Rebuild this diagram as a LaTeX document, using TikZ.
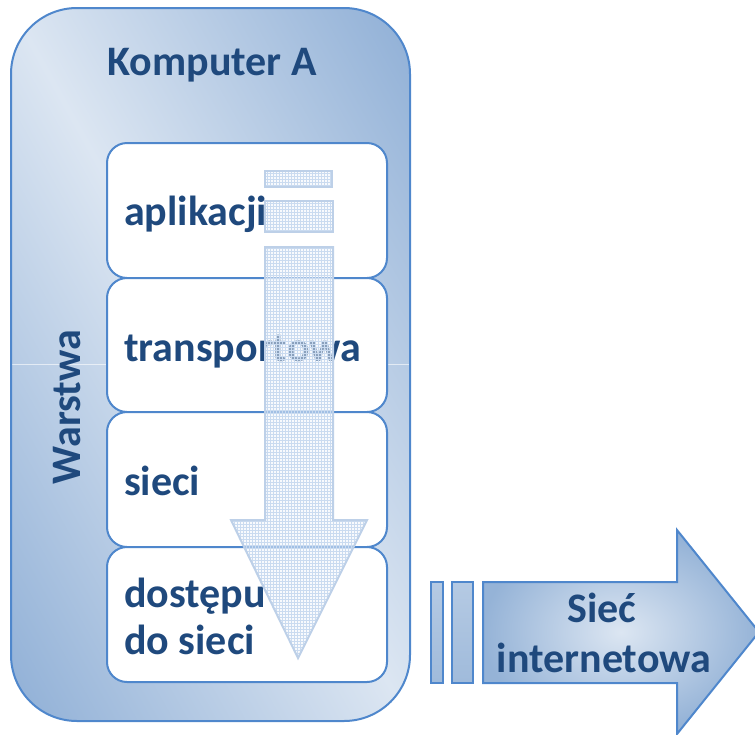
\documentclass[tikz,border=0pt]{standalone}
\usepackage{fontspec}
\setmainfont{Carlito}
\usetikzlibrary{patterns}

\definecolor{frameblue}{HTML}{4F87CC}
\definecolor{textblue}{HTML}{1F497D}
\definecolor{lightblue}{HTML}{DCE6F2}
\definecolor{midblue}{HTML}{95B3D7}
\definecolor{deepblue}{HTML}{8FAFD6}
\definecolor{ghostfill}{HTML}{F3F7FC}
\definecolor{ghostgrid}{HTML}{CADBF0}
\definecolor{ghostline}{HTML}{BDD0E8}

\tikzset{
  label/.style={font=\fontsize{42}{48}\selectfont\bfseries, text=textblue, inner sep=0pt},
  layerbox/.style={draw=frameblue, line width=2pt, fill=white, rounded corners=20pt},
  ghostfillstyle/.style={fill=ghostfill, fill opacity=0.5},
  ghostgridstyle/.style={pattern=grid, pattern color=ghostgrid, fill opacity=0.7},
  ghostedge/.style={draw=ghostline, line width=2pt},
  barstyle/.style={draw=frameblue, line width=2pt, top color=midblue!55!lightblue, bottom color=midblue!85!lightblue},
  enclosure/.style={rounded corners=66pt},
}

\begin{document}
\begin{tikzpicture}[x=1pt, y=-1pt]
\useasboundingbox (0,0) rectangle (755,734);

% computer enclosure: light along the main diagonal, darker towards the other two corners
\begin{scope}
  \clip[enclosure] (11,8) rectangle (410,721);
  \begin{scope}[transform canvas={rotate around={-60.8:(210.5,364.5)}}]
    \shade[top color=deepblue, bottom color=deepblue, middle color=lightblue]
      (-330,16.5) rectangle (751,712.5);
  \end{scope}
\end{scope}
\draw[white, opacity=0.6, line width=0.8pt] (12,364) -- (409,364);
\draw[enclosure, frameblue, line width=2pt] (11,8) rectangle (410,721);

\node[label, anchor=base] (title) at (212,75) {Komputer A};
\node[label, anchor=base, rotate=90] (layerword) at (80,407) {Warstwa};

% protocol layers
\draw[layerbox] (107,143) rectangle (387,278);
\draw[layerbox] (107,278) rectangle (387,412);
\draw[layerbox] (107,412) rectangle (387,547);
\draw[layerbox] (107,547) rectangle (387,682);

\node[label, anchor=base west] (app) at (124,225) {aplikacji};
\node[label, anchor=base west] (trans) at (124,361) {transportowa};
\node[label, anchor=base west] (net) at (124,495) {sieci};
\node[label, anchor=base west] (link) at (124,607) {dostępu};
\node[label, anchor=base west] (link2) at (124,654) {do sieci};

% translucent downward arrow across the layers
\def\ghostarrow{(265,247) -- (333,247) -- (333,520) -- (367,520) -- (298,658) -- (231,520) -- (265,520) -- cycle}
\def\ghostbarA{(265,171) rectangle (332,187)}
\def\ghostbarB{(265,201) rectangle (333,232)}
\foreach \shape in {\ghostbarA, \ghostbarB, \ghostarrow} {
  \path[ghostfillstyle] \shape;
  \path[ghostgridstyle] \shape;
  \path[ghostedge] \shape;
}

% internet arrow
\draw[barstyle] (431,582) rectangle (443,683);
\draw[barstyle] (452,582) rectangle (473,683);
\draw[draw=frameblue, line width=2pt, inner color=lightblue, outer color=midblue]
  (483,582) -- (677,582) -- (677,530) -- (759,632) -- (677,734) -- (677,683) -- (483,683) -- cycle;

\node[label, anchor=base] (inet1) at (602,622) {Sieć};
\node[label, anchor=base] (inet2) at (604,672) {internetowa};
\end{tikzpicture}
\end{document}
